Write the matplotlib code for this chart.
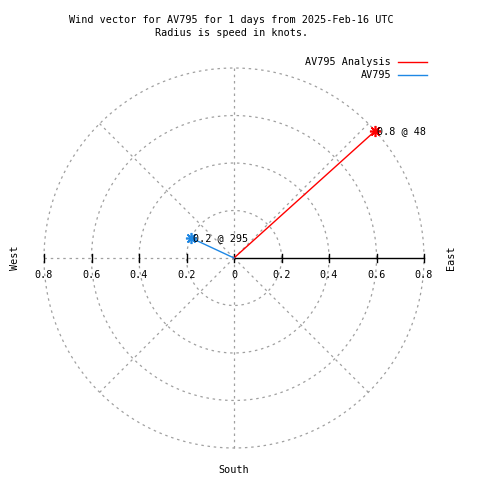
import matplotlib
matplotlib.use('Agg')
import matplotlib.pyplot as plt
import numpy as np

# wind vectors: direction in degrees clockwise from north, radius = speed (knots)
names = ['AV795 Analysis', 'AV795']
speeds = [0.8, 0.2]
directions = [48, 295]
colors = ['#ff0000', '#1e88e5']
point_labels = ['0.8 @ 48', '0.2 @ 295']

rings = [0.2, 0.4, 0.6, 0.8]
ring_labels = ['0.2', '0.4', '0.6', '0.8']
spokes = [0, 45, 90, 135, 180, 225, 270, 315]

plt.rcParams['font.family'] = ['DejaVu Sans Mono']
plt.rcParams['font.size'] = 7.3

fig = plt.figure(figsize=(4.8, 4.8), dpi=100)
ax = fig.add_axes([0, 0, 1, 1])
scale = 237.5  # pixels per knot
ax.set_xlim(-234 / scale, (480 - 234) / scale)
ax.set_ylim(-222 / scale, 258 / scale)
ax.set_aspect('equal')
ax.axis('off')

grid_kw = dict(color='#a0a0a0', lw=0.9, ls=(0, (2, 3)), zorder=1)
t = np.linspace(0, 2 * np.pi, 400)
for r in rings:
    ax.plot(r * np.cos(t), r * np.sin(t), **grid_kw)
rmax = rings[-1]
for a in spokes:
    th = np.radians(a)
    if a == 90:
        continue
    ax.plot([0, rmax * np.sin(th)], [0, rmax * np.cos(th)], **grid_kw)

# r axis on the east side
ax.plot([0, rmax], [0, 0], color='black', lw=1, zorder=2)
tk = 4 / scale
for r in rings:
    ax.plot([r, r], [-tk, tk], color='black', lw=1, zorder=2)
    ax.plot([-r, -r], [-tk, tk], color='black', lw=1, zorder=2)
ax.plot([0, 0], [-tk, tk], color='black', lw=1, zorder=2)

ly = -17 / scale
for r, lab in zip(rings, ring_labels):
    ax.text(-r, ly, lab, ha='center', va='center')
    ax.text(r, ly, lab, ha='center', va='center')
ax.text(0, ly, '0', ha='center', va='center')

# vectors
for spd, d, c, lab in zip(speeds, directions, colors, point_labels):
    th = np.radians(d)
    x, y = spd * np.sin(th), spd * np.cos(th)
    ax.plot([0, x], [0, y], color=c, lw=1, zorder=3)
    ax.plot(x, y, marker=(8, 2, 0), ms=8, mec=c, mew=1.2, zorder=4)
    ax.text(x + 2 / scale, y, lab, ha='left', va='center', zorder=5)

# legend
for i, (n, c) in enumerate(zip(names, colors)):
    yy = 1 - (62 + 13 * i) / 480
    fig.text(391 / 480, yy, n, ha='right', va='center')
    fig.add_artist(plt.Line2D([398 / 480, 427 / 480], [yy, yy], color=c, lw=1))

fig.text(231.5 / 480, 1 - 20 / 480, 'Wind vector for AV795 for 1 days from 2025-Feb-16 UTC',
         ha='center', va='center')
fig.text(231.5 / 480, 1 - 33 / 480, 'Radius is speed in knots.', ha='center', va='center')
fig.text(15 / 480, 1 - 258 / 480, 'West', rotation=90, ha='center', va='center')
fig.text(451 / 480, 1 - 258 / 480, 'East', rotation=90, ha='center', va='center')
fig.text(234 / 480, 1 - 470 / 480, 'South', ha='center', va='center')

fig.savefig('out.png', dpi=100, facecolor='white')
